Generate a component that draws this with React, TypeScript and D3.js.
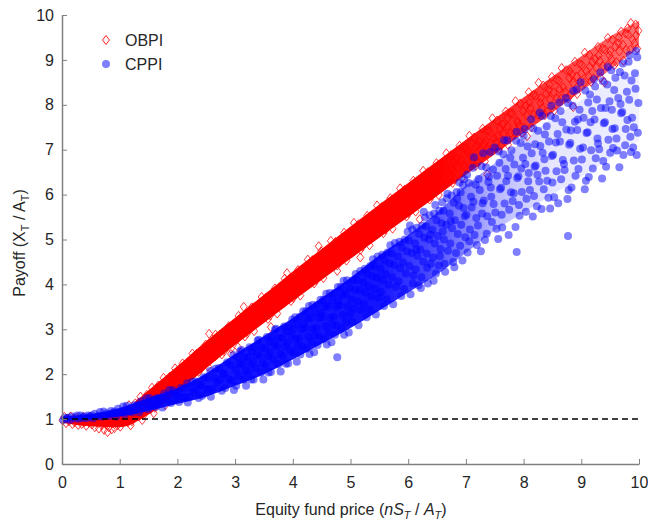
import React, { useEffect, useRef } from 'react';
import * as d3 from 'd3';

type Pt = [number, number];

// OBPI payoffs
const obpiLow: Pt[] = [
  [0.01,0.97],[0.04,1.05],[0.07,0.91],[0.09,1.01],[0.12,0.95],[0.15,1.06],[0.18,0.89],[0.19,1.0],
  [0.22,0.93],[0.25,1.03],[0.28,0.87],[0.31,0.98],[0.34,0.89],[0.37,1.05],[0.39,0.93],
  [0.42,0.85],[0.44,1.0],[0.47,0.92],[0.49,1.05],[0.52,0.88],[0.55,0.97],[0.57,0.82],[0.59,1.03],
  [0.61,0.92],[0.64,0.79],[0.66,1.0],[0.69,0.86],[0.71,0.95],[0.73,0.76],[0.76,0.88],[0.78,1.04],[0.79,0.71],
  [0.81,0.82],[0.84,0.97],[0.86,0.77],[0.88,0.9],[0.89,1.06],[0.91,0.8],[0.93,0.95],[0.96,0.86],[0.98,1.08],
  [1.01,0.83],[1.03,1.04],[1.05,0.92],[1.07,1.18],[1.09,1.08],
  [1.12,1.18],[1.14,0.93],[1.16,1.31],[1.18,1.06],[1.19,0.86],
  [1.21,0.95],[1.23,1.19],[1.25,1.06],[1.27,1.35],[1.29,1.24],
  [1.32,1.36],[1.34,1.07],[1.36,1.5],[1.38,1.21],[1.39,0.98],
  [1.41,1.08],[1.43,1.35],[1.45,1.2],[1.47,1.54],[1.49,1.42],
  [1.52,1.54],[1.54,1.22],[1.56,1.7],[1.58,1.38],[1.59,1.13],
  [1.61,1.25],[1.63,1.55],[1.65,1.38],[1.67,1.75],[1.69,1.61],
  [1.72,1.75],[1.74,1.41],[1.76,1.92],[1.78,1.58],[1.79,1.31],
  [1.81,1.43],[1.83,1.75],[1.85,1.57],[1.87,1.95],[1.89,1.82],
  [1.92,1.95],[1.94,1.6],[1.96,2.13],[1.98,1.78],[1.99,1.49],
];

const obpiMid: Pt[] = [
  [2.01,1.72],[2.04,2.03],[2.06,1.91],[2.09,2.24],[2.12,2.04],[2.13,1.78],[2.17,2.25],[2.18,1.97],
  [2.21,2.26],[2.25,2.0],[2.26,2.46],[2.29,2.18],[2.32,2.13],[2.34,2.46],[2.37,2.05],[2.39,2.37],
  [2.41,2.12],[2.44,2.44],[2.46,2.31],[2.49,2.66],[2.52,2.45],[2.53,2.17],[2.57,2.66],[2.58,2.37],
  [2.61,2.67],[2.65,2.4],[2.66,2.88],[2.69,2.59],[2.72,2.53],[2.74,2.88],[2.77,2.44],[2.79,2.77],
  [2.81,2.51],[2.84,2.85],[2.86,2.71],[2.89,3.07],[2.92,2.85],[2.93,2.57],[2.97,3.07],[2.98,2.77],
  [3.01,3.08],[3.05,2.8],[3.06,3.3],[3.09,2.99],[3.12,2.94],[3.14,3.29],[3.17,2.84],[3.19,3.18],
  [3.21,2.91],[3.24,3.26],[3.26,3.12],[3.29,3.49],[3.32,3.26],[3.33,2.96],[3.37,3.48],[3.38,3.17],
  [3.41,3.49],[3.45,3.2],[3.46,3.72],[3.49,3.4],[3.52,3.34],[3.54,3.71],[3.57,3.23],[3.59,3.59],
  [3.61,3.31],[3.64,3.67],[3.66,3.52],[3.69,3.91],[3.72,3.67],[3.73,3.35],[3.77,3.9],[3.78,3.57],
  [3.81,3.9],[3.85,3.59],[3.86,4.13],[3.89,3.8],[3.92,3.74],[3.94,4.12],[3.97,3.63],[3.99,4.0],
  [4.01,3.7],[4.04,4.08],[4.06,3.92],[4.09,4.32],[4.12,4.07],[4.13,3.75],[4.17,4.31],[4.18,3.97],
  [4.21,4.31],[4.25,3.99],[4.26,4.55],[4.29,4.21],[4.32,4.14],[4.34,4.54],[4.37,4.02],[4.39,4.41],
  [4.41,4.1],[4.44,4.49],[4.46,4.32],[4.49,4.74],[4.52,4.48],[4.53,4.14],[4.57,4.72],[4.58,4.37],
  [4.61,4.73],[4.65,4.39],[4.66,4.97],[4.69,4.61],[4.72,4.54],[4.74,4.95],[4.77,4.42],[4.79,4.81],
  [4.81,4.49],[4.84,4.9],[4.86,4.73],[4.89,5.15],[4.92,4.88],[4.93,4.53],[4.97,5.13],[4.98,4.77],
  [2.93,2.45],[3.05,2.6],[3.62,3.05],[4.77,4.3],[2.55,2.9],[3.15,3.5],[3.9,4.25],[4.45,4.85],
];

const obpiUpper: Pt[] = [
  [5.01,5.11],[5.05,4.75],[5.06,5.37],[5.09,4.98],[5.12,4.9],[5.14,5.34],[5.17,4.77],[5.19,5.19],
  [5.21,4.84],[5.24,5.27],[5.26,5.08],[5.29,5.53],[5.32,5.24],[5.33,4.87],[5.37,5.5],[5.38,5.12],
  [5.41,5.49],[5.45,5.13],[5.46,5.76],[5.49,5.36],[5.52,5.28],[5.54,5.72],[5.57,5.14],[5.59,5.57],
  [5.61,5.22],[5.64,5.65],[5.66,5.46],[5.69,5.92],[5.72,5.62],[5.73,5.24],[5.77,5.89],[5.78,5.49],
  [5.81,5.88],[5.85,5.5],[5.86,6.14],[5.89,5.74],[5.92,5.65],[5.94,6.11],[5.97,5.51],[5.99,5.95],
  [6.01,5.59],[6.04,6.03],[6.06,5.84],[6.09,6.31],[6.12,6.0],[6.13,5.62],[6.17,6.27],[6.18,5.87],
  [6.21,6.26],[6.25,5.88],[6.26,6.53],[6.29,6.12],[6.32,6.03],[6.34,6.5],[6.37,5.89],[6.39,6.33],
  [6.41,5.97],[6.44,6.41],[6.46,6.22],[6.49,6.7],[6.52,6.38],[6.53,5.99],[6.57,6.66],[6.58,6.25],
  [6.61,6.65],[6.65,6.26],[6.66,6.92],[6.69,6.5],[6.72,6.41],[6.74,6.88],[6.77,6.26],[6.79,6.72],
  [6.81,6.34],[6.84,6.8],[6.86,6.6],[6.89,7.09],[6.92,6.77],[6.93,6.36],[6.97,7.04],[6.98,6.62],
  [7.01,7.03],[7.05,6.63],[7.06,7.31],[7.09,6.88],[7.12,6.79],[7.14,7.27],[7.17,6.64],[7.19,7.1],
  [7.21,6.72],[7.24,7.18],[7.26,6.98],[7.29,7.47],[7.32,7.14],[7.33,6.74],[7.37,7.43],[7.38,7.0],
  [7.41,7.41],[7.45,7.01],[7.46,7.7],[7.49,7.26],[7.52,7.16],[7.54,7.65],[7.57,7.01],[7.59,7.48],
  [7.61,7.09],[7.64,7.56],[7.66,7.35],[7.69,7.85],[7.72,7.52],[7.73,7.11],[7.77,7.81],[7.78,7.37],
  [7.81,7.8],[7.85,7.38],[7.86,8.08],[7.89,7.64],[7.92,7.54],[7.94,8.03],[7.97,7.38],[7.99,7.86],
  [5.17,4.6],[6.2,5.45],[7.37,6.45],[5.25,5.2],[5.5,5.45],[5.8,5.65],[6.1,6.05],[6.5,6.45],[6.75,6.55],
  [7.03,6.95],[7.16,7.05],[7.35,7.2],[7.55,7.3],[7.72,7.7],[7.9,7.6],
];

const obpiTop: Pt[] = [
  [8.01,7.49],[8.04,7.98],[8.06,7.76],[8.09,8.28],[8.12,7.93],[8.13,7.5],[8.17,8.22],[8.18,7.78],
  [8.21,8.2],[8.25,7.78],[8.26,8.49],[8.29,8.04],[8.32,7.93],[8.34,8.43],[8.37,7.77],[8.39,8.25],
  [8.41,7.85],[8.44,8.33],[8.46,8.12],[8.49,8.62],[8.52,8.28],[8.53,7.87],[8.57,8.56],[8.58,8.14],
  [8.61,8.54],[8.65,8.14],[8.66,8.82],[8.69,8.39],[8.72,8.29],[8.74,8.77],[8.77,8.14],[8.79,8.6],
  [8.81,8.22],[8.84,8.67],[8.86,8.48],[8.89,8.96],[8.92,8.63],[8.93,8.24],[8.97,8.91],[8.98,8.5],
  [9.01,8.89],[9.05,8.5],[9.06,9.16],[9.09,8.75],[9.12,8.65],[9.14,9.11],[9.17,8.51],[9.19,8.95],
  [9.21,8.59],[9.24,9.02],[9.26,8.83],[9.29,9.29],[9.32,8.98],[9.33,8.61],[9.37,9.25],[9.38,8.86],
  [9.41,9.23],[9.45,8.87],[9.46,9.49],[9.49,9.1],[9.52,9.01],[9.54,9.45],[9.57,8.88],[9.59,9.3],
  [9.61,8.95],[9.64,9.37],[9.66,9.19],[9.69,9.63],[9.72,9.34],[9.73,8.98],[9.77,9.59],[9.78,9.22],
  [9.81,9.57],[9.85,9.23],[9.86,9.82],[9.89,9.45],[9.92,9.37],[9.94,9.79],[9.97,9.25],[9.99,9.65],
  [8.06,7.3],[8.86,7.95],[9.4,8.5],[8.1,8.05],[8.3,8.15],[8.45,8.45],[8.62,8.35],[8.8,8.75],
  [9.0,8.7],[9.15,8.85],[9.3,9.1],[9.5,9.2],[9.65,9.5],[9.8,9.7],[9.95,9.55],
];

// CPPI payoffs
const cppiLow: Pt[] = [
  [0.02,0.98],[0.05,1.03],[0.08,1.01],[0.11,1.03],[0.14,0.98],[0.17,1.06],[0.23,1.02],[0.26,1.08],[0.29,1.01],
  [0.32,1.08],[0.35,1.03],[0.38,1.06],[0.42,1.02],[0.45,1.08],[0.48,1.05],[0.51,1.08],[0.54,1.02],[0.57,1.12],
  [0.63,1.07],[0.66,1.16],[0.69,1.05],[0.72,1.17],[0.75,1.08],[0.78,1.13],[0.82,1.07],[0.85,1.18],[0.88,1.13],
  [0.91,1.17],[0.94,1.06],[0.97,1.23],[1.03,1.15],[1.06,1.28],[1.09,1.11],[1.12,1.3],[1.15,1.17],[1.18,1.25],
  [1.22,1.15],[1.25,1.31],[1.28,1.24],[1.31,1.31],[1.34,1.15],[1.37,1.4],[1.43,1.27],[1.46,1.46],[1.49,1.22],
  [1.52,1.47],[1.55,1.29],[1.58,1.4],[1.62,1.27],[1.65,1.47],[1.68,1.38],[1.71,1.46],[1.74,1.26],[1.77,1.57],
  [1.83,1.42],[1.86,1.65],[1.89,1.36],[1.92,1.64],[1.95,1.43],[1.98,1.55],
];

const cppiMid: Pt[] = [
  [2.01,1.56],[2.03,1.38],[2.06,1.69],[2.09,1.49],[2.12,1.68],[2.14,1.49],[2.17,1.8],[2.18,1.37],
  [2.21,1.5],[2.25,1.68],[2.26,1.83],[2.29,1.6],[2.32,1.84],[2.34,1.65],[2.37,1.47],[2.39,1.76],
  [2.41,1.76],[2.43,1.52],[2.46,1.93],[2.49,1.67],[2.52,1.91],[2.54,1.66],[2.57,2.07],[2.58,1.5],
  [2.61,1.67],[2.65,1.91],[2.66,2.12],[2.69,1.81],[2.72,2.14],[2.74,1.87],[2.77,1.63],[2.79,2.02],
  [2.81,2.01],[2.83,1.69],[2.86,2.26],[2.89,1.89],[2.92,2.21],[2.94,1.86],[2.97,2.43],[2.98,1.65],
  [3.01,2.1],[3.02,1.74],[3.04,2.38],[3.06,1.96],[3.08,2.24],[3.09,2.51],
  [3.11,2.54],[3.13,2.21],[3.15,1.88],[3.16,2.37],[3.18,2.07],[3.19,1.74],
  [3.22,2.38],[3.23,2.03],[3.25,2.6],[3.27,2.21],[3.28,1.88],[3.29,2.5],
  [3.31,2.29],[3.32,1.88],[3.34,2.6],[3.36,2.14],[3.38,2.44],[3.39,2.75],
  [3.41,2.77],[3.43,2.41],[3.45,2.04],[3.46,2.59],[3.48,2.25],[3.49,1.88],
  [3.52,2.58],[3.53,2.2],[3.55,2.83],[3.57,2.4],[3.58,2.04],[3.59,2.72],
  [3.61,2.49],[3.62,2.05],[3.64,2.82],[3.66,2.33],[3.68,2.66],[3.69,2.99],
  [3.71,3.01],[3.73,2.62],[3.75,2.22],[3.76,2.81],[3.78,2.45],[3.79,2.06],
  [3.82,2.8],[3.83,2.4],[3.85,3.06],[3.87,2.61],[3.88,2.23],[3.89,2.95],
  [3.91,2.7],[3.92,2.24],[3.94,3.05],[3.96,2.53],[3.98,2.87],[3.99,3.22],
  [4.01,3.01],[4.02,2.48],[4.04,3.27],[4.05,2.78],[4.07,2.28],[4.08,3.13],[4.09,2.63],
  [4.11,2.8],[4.12,3.28],[4.13,2.44],[4.15,3.0],[4.16,2.62],[4.18,3.4],[4.19,3.12],
  [4.21,3.03],[4.23,3.4],[4.24,2.57],[4.26,3.24],[4.27,2.84],[4.28,3.52],[4.29,2.45],
  [4.31,3.26],[4.32,2.71],[4.34,3.54],[4.35,3.02],[4.37,2.49],[4.38,3.39],[4.39,2.87],
  [4.41,3.03],[4.42,3.54],[4.43,2.65],[4.45,3.25],[4.46,2.84],[4.48,3.66],[4.49,3.37],
  [4.51,3.28],[4.53,3.66],[4.54,2.79],[4.56,3.5],[4.57,3.07],[4.58,3.79],[4.59,2.66],
  [4.61,3.52],[4.62,2.93],[4.64,3.81],[4.65,3.26],[4.67,2.71],[4.68,3.65],[4.69,3.1],
  [4.71,3.28],[4.72,3.81],[4.73,2.88],[4.75,3.5],[4.76,3.08],[4.78,3.94],[4.79,3.64],
  [4.81,3.53],[4.83,3.94],[4.84,3.02],[4.86,3.77],[4.87,3.32],[4.88,4.08],[4.89,2.88],
  [4.91,3.79],[4.92,3.16],[4.94,4.09],[4.95,3.51],[4.97,2.93],[4.98,3.92],[4.99,3.34],
  [4.77,2.38],
];

const cppiUpper: Pt[] = [
  [5.01,3.67],[5.03,3.17],[5.04,4.09],[5.06,3.46],[5.08,3.88],[5.09,4.23],
  [5.11,4.1],[5.12,3.62],[5.14,3.09],[5.16,3.87],[5.17,4.3],[5.19,3.43],
  [5.22,4.05],[5.23,3.57],[5.25,4.35],[5.26,3.82],[5.28,3.27],[5.29,4.23],
  [5.31,3.96],[5.33,3.43],[5.34,4.41],[5.36,3.73],[5.38,4.18],[5.39,4.56],
  [5.41,4.41],[5.42,3.9],[5.44,3.33],[5.46,4.16],[5.47,4.62],[5.49,3.7],
  [5.52,4.35],[5.53,3.83],[5.55,4.66],[5.56,4.1],[5.58,3.52],[5.59,4.54],
  [5.61,4.23],[5.63,3.67],[5.64,4.71],[5.66,3.99],[5.68,4.47],[5.69,4.87],
  [5.71,4.69],[5.72,4.16],[5.74,3.56],[5.76,4.43],[5.77,4.92],[5.79,3.95],
  [5.82,4.62],[5.83,4.07],[5.85,4.95],[5.86,4.36],[5.88,3.74],[5.89,4.82],
  [5.91,4.49],[5.93,3.9],[5.94,5.0],[5.96,4.24],[5.98,4.74],[5.99,5.17],
  [6.01,4.98],[6.02,4.41],[6.04,3.78],[6.06,4.7],[6.07,5.22],[6.09,4.19],
  [6.12,4.91],[6.13,4.33],[6.15,5.26],[6.16,4.63],[6.18,3.98],[6.19,5.12],
  [6.21,4.78],[6.23,4.16],[6.24,5.31],[6.26,4.51],[6.28,5.04],[6.29,5.49],
  [6.31,5.29],[6.32,4.69],[6.34,4.02],[6.36,5.0],[6.37,5.54],[6.39,4.46],
  [6.42,5.21],[6.43,4.6],[6.45,5.58],[6.46,4.91],[6.48,4.24],[6.49,5.43],
  [6.51,5.08],[6.53,4.42],[6.54,5.64],[6.56,4.79],[6.58,5.36],[6.59,5.83],
  [6.61,5.64],[6.62,5.0],[6.64,4.28],[6.66,5.33],[6.67,5.92],[6.69,4.75],
  [6.72,5.58],[6.73,4.91],[6.75,5.98],[6.76,5.25],[6.78,4.5],[6.79,5.82],
  [6.81,5.43],[6.83,4.7],[6.84,6.06],[6.86,5.12],[6.88,5.75],[6.89,6.27],
  [6.91,6.05],[6.92,5.33],[6.94,4.53],[6.96,5.7],[6.97,6.35],[6.99,5.05],
];

const cppiTop: Pt[] = [
  [7.01,5.55],[7.03,4.71],[7.05,6.26],[7.07,5.22],[7.09,5.95],
  [7.12,6.6],[7.13,5.84],[7.15,5.1],[7.17,6.22],[7.18,5.48],
  [7.21,5.31],[7.24,6.1],[7.26,4.74],[7.27,6.63],[7.29,5.81],
  [7.31,5.87],[7.33,4.99],[7.35,6.61],[7.37,5.52],[7.39,6.28],
  [7.42,6.95],[7.43,6.16],[7.45,5.39],[7.47,6.56],[7.48,5.79],
  [7.51,5.6],[7.54,6.42],[7.56,5.01],[7.57,6.96],[7.59,6.12],
  [7.61,6.15],[7.63,5.27],[7.65,6.9],[7.67,5.8],[7.69,6.57],
  [7.72,7.21],[7.73,6.42],[7.75,5.66],[7.77,6.82],[7.78,6.05],
  [7.81,5.86],[7.84,6.67],[7.86,5.28],[7.87,7.2],[7.89,6.37],
  [7.91,6.41],[7.93,5.53],[7.95,7.15],[7.97,6.06],[7.99,6.82],
  [8.02,7.46],[8.03,6.68],[8.05,5.91],[8.07,7.07],[8.08,6.3],
  [8.11,6.1],[8.14,6.92],[8.16,5.51],[8.17,7.47],[8.19,6.62],
  [8.21,6.65],[8.23,5.74],[8.25,7.42],[8.27,6.29],[8.29,7.08],
  [8.32,7.75],[8.33,6.93],[8.35,6.12],[8.37,7.34],[8.38,6.53],
  [8.41,6.31],[8.44,7.18],[8.46,5.69],[8.47,7.75],[8.49,6.86],
  [8.51,6.89],[8.53,5.94],[8.55,7.7],[8.57,6.52],[8.59,7.35],
  [8.62,8.05],[8.63,7.18],[8.65,6.34],[8.67,7.61],[8.68,6.77],
  [8.71,6.55],[8.74,7.45],[8.76,5.9],[8.77,8.04],[8.79,7.11],
  [8.81,7.15],[8.83,6.16],[8.85,7.98],[8.87,6.76],[8.89,7.62],
  [8.92,8.34],[8.93,7.44],[8.95,6.57],[8.97,7.89],[8.98,7.02],
  [9.01,6.78],[9.04,7.71],[9.06,6.12],[9.07,8.32],[9.09,7.37],
  [9.11,7.39],[9.13,6.39],[9.15,8.23],[9.17,6.99],[9.19,7.86],
  [9.22,8.57],[9.23,7.67],[9.25,6.81],[9.27,8.12],[9.28,7.25],
  [9.31,7.01],[9.34,7.93],[9.36,6.36],[9.37,8.53],[9.39,7.59],
  [9.41,7.61],[9.43,6.62],[9.45,8.45],[9.47,7.22],[9.49,8.08],
  [9.52,8.77],[9.53,7.89],[9.55,7.04],[9.57,8.33],[9.58,7.48],
  [9.61,7.25],[9.64,8.15],[9.66,6.61],[9.67,8.73],[9.69,7.81],
  [9.71,7.84],[9.73,6.88],[9.75,8.65],[9.77,7.46],[9.79,8.29],
  [9.82,8.96],[9.83,8.11],[9.85,7.29],[9.87,8.54],[9.88,7.71],
  [9.91,7.5],[9.94,8.36],[9.96,6.88],[9.97,9.06],[9.99,8.04],
  [7.88,4.72],[8.77,5.08],
];

// loose CPPI points in the wide upper part of the cloud
const cppiScatter: Pt[] = [
  [6.03,5.31],[6.08,4.02],[6.14,4.77],[6.22,3.92],[6.27,5.62],[6.33,4.37],[6.38,5.11],[6.44,4.08],
  [6.47,5.77],[6.55,4.63],[6.6,5.18],[6.63,4.46],[6.68,6.02],[6.74,5.41],[6.8,4.38],[6.85,5.91],
  [6.9,4.86],[6.95,6.21],[6.98,5.52],[7.02,6.44],[7.06,4.96],[7.1,5.71],[7.14,6.83],[7.19,4.88],
  [7.22,6.35],[7.28,5.58],[7.3,6.92],[7.36,5.13],[7.4,6.4],[7.44,5.95],[7.5,7.05],[7.53,5.24],
  [7.58,6.71],[7.62,5.55],[7.66,7.21],[7.7,6.3],[7.74,5.1],[7.79,6.99],[7.83,6.03],[7.88,7.4],
  [7.92,5.77],[7.96,6.58],[8.0,7.31],[8.04,5.62],[8.09,6.48],[8.13,7.68],[8.18,5.97],[8.2,7.12],
  [8.24,6.44],[8.28,7.83],[8.31,5.68],[8.36,6.79],[8.4,7.52],[8.43,5.93],[8.48,7.98],[8.5,6.27],
  [8.56,7.16],[8.6,5.81],[8.64,7.86],[8.7,6.68],[8.73,8.15],[8.78,6.1],[8.82,7.43],[8.86,8.31],
  [8.9,6.42],[8.94,7.67],[8.99,8.5],[9.03,7.05],[9.08,6.31],[9.12,8.05],[9.16,7.61],[9.2,6.58],
  [9.24,8.41],[9.29,7.14],[9.33,8.72],[9.38,6.75],[9.42,7.93],[9.46,8.84],[9.5,6.93],[9.54,7.46],
  [9.59,8.6],[9.62,6.98],[9.68,8.02],[9.72,8.92],[9.76,7.1],[9.8,7.66],[9.84,9.11],[9.9,7.05],
  [9.93,8.7],[9.98,7.38],[9.95,9.2],[9.86,6.95],
];

// where each cloud is packed solid (lower / upper edge of the dense core)
const coreX = [0, 0.5, 1, 1.5, 2, 2.5, 3, 3.5, 4, 4.5, 5, 5.5, 6, 6.5, 7, 7.5, 8, 8.5, 9, 9.5, 10];
const obpiCoreLo = [0.92, 0.84, 0.82, 1.1, 1.6, 2.13, 2.65, 3.14, 3.63, 4.1, 4.57, 5.04, 5.5, 5.97, 6.44, 6.9, 7.37, 7.83, 8.3, 8.78, 9.28];
const obpiCoreHi = [1.07, 1.05, 1.15, 1.64, 2.18, 2.74, 3.26, 3.77, 4.29, 4.79, 5.29, 5.78, 6.26, 6.74, 7.22, 7.69, 8.16, 8.63, 9.08, 9.52, 9.87];
const cppiCoreLo = [0.97, 1.01, 1.06, 1.18, 1.34, 1.5, 1.74, 2.0, 2.33, 2.68, 3.03, 3.42, 3.82, 4.22, 4.7, 5.2, 5.6, 6.0, 6.4, 6.8, 7.2];
const cppiCoreHi = [1.04, 1.11, 1.25, 1.47, 1.69, 2.02, 2.45, 2.85, 3.25, 3.7, 4.15, 4.65, 5.1, 5.6, 6.2, 6.7, 7.2, 7.7, 8.1, 8.5, 8.8];

const xTicks = [0, 1, 2, 3, 4, 5, 6, 7, 8, 9, 10];
const yTicks = [0, 1, 2, 3, 4, 5, 6, 7, 8, 9, 10];
const floorLevel = 1;
const seriesNames = ['OBPI', 'CPPI'];

const FONT = 'Arial, "Liberation Sans", Helvetica, sans-serif';
const TEXT = '#262626';
const AXIS = '#808080';

const diamond = (cx: number, cy: number) =>
  `M${cx},${cy - 4.5}L${cx + 3.5},${cy}L${cx},${cy + 4.5}L${cx - 3.5},${cy}Z`;

const App = () => {
  const ref = useRef<SVGSVGElement>(null);

  useEffect(() => {
    if (!ref.current) return;
    const svg = d3.select(ref.current);
    svg.selectAll('*').remove();

    const x = d3.scaleLinear().domain([0, 10]).range([62, 639]);
    const y = d3.scaleLinear().domain([0, 10]).range([464, 15]);

    const obpi = [...obpiLow, ...obpiMid, ...obpiUpper, ...obpiTop];
    const cppi = [...cppiLow, ...cppiMid, ...cppiUpper, ...cppiTop, ...cppiScatter];

    // fading fills for the packed cores
    const defs = svg.append('defs');
    const grad = (id: string, color: string, stops: [number, number][]) => {
      const g = defs.append('linearGradient')
        .attr('id', id)
        .attr('gradientUnits', 'userSpaceOnUse')
        .attr('x1', x(0)).attr('x2', x(10))
        .attr('y1', 0).attr('y2', 0);
      stops.forEach(([o, a]) => {
        g.append('stop').attr('offset', o).attr('stop-color', color).attr('stop-opacity', a);
      });
    };
    grad('obpiFade', '#ff0000', [[0, 1], [0.65, 1], [0.85, 0.75], [1, 0.55]]);
    grad('cppiFade', '#0000ff', [[0, 0.92], [0.55, 0.92], [0.65, 0.68], [0.75, 0.28], [0.85, 0.1], [1, 0.06]]);

    const core = (lo: number[], hi: number[]) =>
      d3.area<number>()
        .x(d => x(d))
        .y0((_, i) => y(lo[i]))
        .y1((_, i) => y(hi[i]))
        .curve(d3.curveMonotoneX)(coreX);

    svg.append('path').attr('d', core(obpiCoreLo, obpiCoreHi)).attr('fill', 'url(#obpiFade)');

    svg.append('g')
      .selectAll('path')
      .data(obpi)
      .enter()
      .append('path')
        .attr('d', d => diamond(x(d[0]), y(d[1])))
        .attr('fill', 'none')
        .attr('stroke', '#ff0000')
        .attr('stroke-width', 0.9)
        .attr('stroke-opacity', 0.85);

    svg.append('path').attr('d', core(cppiCoreLo, cppiCoreHi)).attr('fill', 'url(#cppiFade)');

    svg.append('g')
      .selectAll('circle')
      .data(cppi)
      .enter()
      .append('circle')
        .attr('cx', d => x(d[0]))
        .attr('cy', d => y(d[1]))
        .attr('r', 4)
        .attr('fill', '#0000ff')
        .attr('fill-opacity', 0.5);

    svg.append('line')
      .attr('x1', x(0)).attr('x2', x(10))
      .attr('y1', y(floorLevel)).attr('y2', y(floorLevel))
      .attr('stroke', '#000')
      .attr('stroke-width', 1.5)
      .attr('stroke-dasharray', '6,4');

    const styleAxis = (g: any) => {
      g.select('.domain').attr('stroke', AXIS).attr('stroke-width', 1.5);
      g.selectAll('.tick line').attr('stroke', AXIS);
      g.selectAll('.tick text').attr('fill', TEXT);
      g.attr('font-family', FONT).attr('font-size', 16);
    };

    svg.append('g')
      .attr('transform', `translate(0,${y(0)})`)
      .call(d3.axisBottom(x).tickValues(xTicks).tickFormat(d3.format('d')).tickSizeInner(-5).tickSizeOuter(0).tickPadding(13))
      .call(styleAxis);

    svg.append('g')
      .attr('transform', `translate(${x(0)},0)`)
      .call(d3.axisLeft(y).tickValues(yTicks).tickFormat(d3.format('d')).tickSizeInner(-5).tickSizeOuter(0).tickPadding(8))
      .call(styleAxis);

    // axis titles
    const xt = svg.append('text')
      .attr('x', 351).attr('y', 515)
      .attr('text-anchor', 'middle')
      .attr('font-family', FONT).attr('font-size', 16).attr('fill', TEXT);
    xt.append('tspan').text('Equity fund price (');
    xt.append('tspan').attr('font-style', 'italic').text('nS');
    xt.append('tspan').attr('font-style', 'italic').attr('font-size', 11).attr('dy', 4).text('T');
    xt.append('tspan').attr('dy', -4).text(' / ');
    xt.append('tspan').attr('font-style', 'italic').text('A');
    xt.append('tspan').attr('font-style', 'italic').attr('font-size', 11).attr('dy', 4).text('T');
    xt.append('tspan').attr('dy', -4).text(')');

    const yt = svg.append('text')
      .attr('transform', 'translate(25,243) rotate(-90)')
      .attr('text-anchor', 'middle')
      .attr('font-family', FONT).attr('font-size', 16).attr('fill', TEXT);
    yt.append('tspan').text('Payoff (X');
    yt.append('tspan').attr('font-size', 11).attr('dy', 4).text('T');
    yt.append('tspan').attr('dy', -4).text(' / A');
    yt.append('tspan').attr('font-size', 11).attr('dy', 4).text('T');
    yt.append('tspan').attr('dy', -4).text(')');

    // legend
    const lg = svg.append('g').attr('font-family', FONT).attr('font-size', 16).attr('fill', TEXT);
    lg.append('path')
      .attr('d', diamond(106, 40))
      .attr('fill', 'none').attr('stroke', '#ff0000').attr('stroke-width', 0.9);
    lg.append('circle')
      .attr('cx', 106).attr('cy', 64).attr('r', 4)
      .attr('fill', '#0000ff').attr('fill-opacity', 0.5);
    lg.selectAll('text.name')
      .data(seriesNames)
      .enter()
      .append('text')
        .attr('class', 'name')
        .attr('x', 125)
        .attr('y', (_, i) => 40 + i * 24)
        .attr('dy', '0.36em')
        .text(d => d);
  }, []);

  return (
    <svg
      ref={ref}
      width={648}
      height={525}
      style={{ position: 'absolute', left: 0, top: 0, background: '#fff' }}
    />
  );
};

export default App;
